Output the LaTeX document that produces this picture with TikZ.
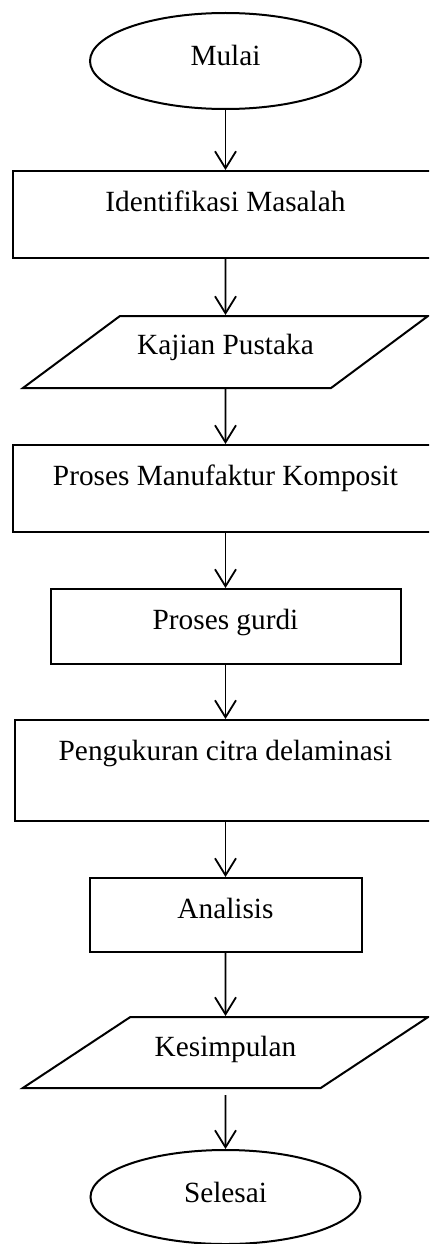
\documentclass[tikz,border=0pt]{standalone}
\usepackage{fontspec}
\setmainfont{Liberation Serif}
\usetikzlibrary{shapes.geometric,arrows.meta}

\begin{document}
\begin{tikzpicture}[x=1pt,y=-1pt,
    font=\fontsize{29.3}{35}\selectfont,
    terminal/.style={draw,ellipse,line width=2pt,inner sep=0pt,text height=20pt,text depth=10pt,
      minimum width=271pt,minimum height=96pt},
    proses/.style={draw,rectangle,line width=2pt,inner sep=0pt,anchor=north,text height=40pt,
      minimum width=#1},
    data/.style={draw,trapezium,trapezium left angle=41.6,trapezium right angle=138.4,
      trapezium stretches=true,line width=2pt,inner sep=0pt,anchor=north,text height=38pt,
      minimum width=406pt,minimum height=72pt},
    panah/.style={line width=1.8pt,-{Straight Barb[length=17pt,width=21pt]}}]
    \clip (0,0) rectangle (429,1244);

    \node[terminal] (mulai) at (225.5,61) {Mulai};
    \node[proses=425pt,text depth=47pt] (identifikasi) at (225.5,170) {Identifikasi Masalah};
    \node[data,text depth=34pt] (kajian) at (225.5,315) {Kajian Pustaka};
    \node[proses=425pt,text depth=47pt] (manufaktur) at (225.5,444) {Proses Manufaktur Komposit};
    \node[proses=350pt,text depth=35pt] (gurdi) at (225.5,588) {Proses gurdi};
    \node[proses=421pt,text depth=61pt] (pengukuran) at (225.5,719) {Pengukuran citra delaminasi};
    \node[proses=272pt,text depth=34pt] (analisis) at (225.5,877) {Analisis};
    \node[data,text height=39pt,text depth=32pt,minimum height=71pt] (kesimpulan) at (225.5,1016) {Kesimpulan};
    \node[terminal,minimum width=270pt,minimum height=94pt] (selesai) at (225.5,1197) {Selesai};

    \draw[panah] (mulai) -- (identifikasi);
    \draw[panah] (identifikasi) -- (kajian);
    \draw[panah] (kajian) -- (manufaktur);
    \draw[panah] (manufaktur) -- (gurdi);
    \draw[panah] (gurdi) -- (pengukuran);
    \draw[panah] (pengukuran) -- (analisis);
    \draw[panah] (analisis) -- (kesimpulan);
    \draw[panah,shorten <=6pt] (kesimpulan) -- (selesai);
\end{tikzpicture}
\end{document}
